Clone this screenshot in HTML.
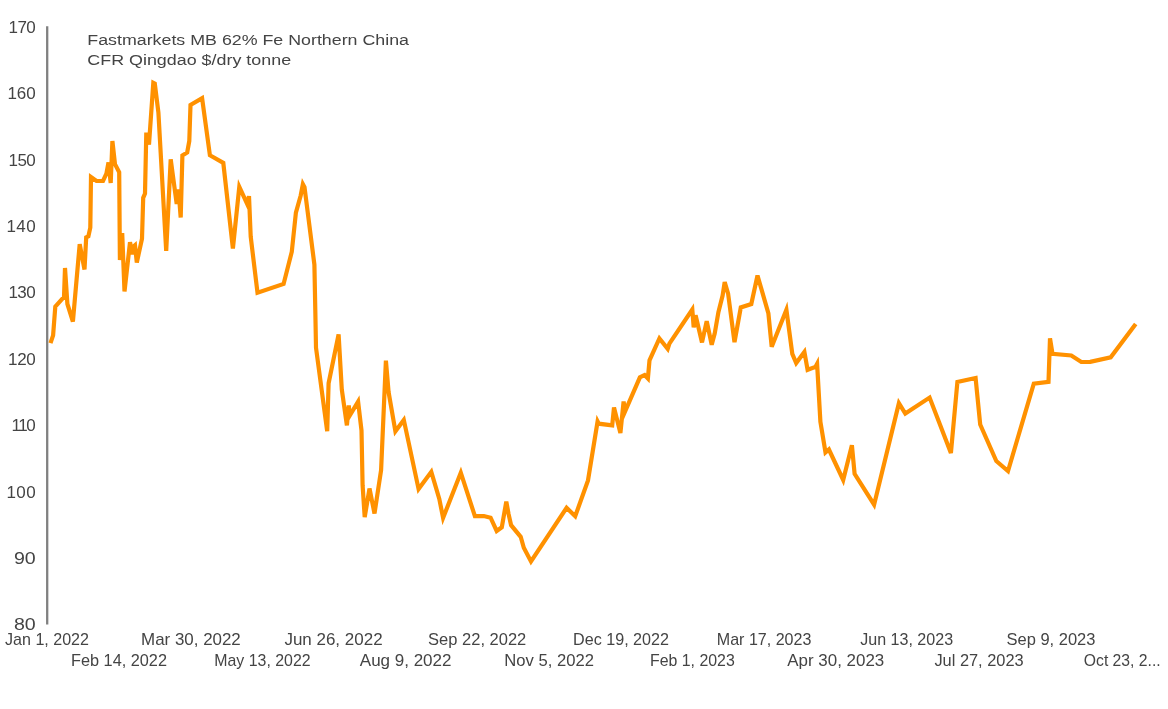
<!DOCTYPE html>
<html lang="en"><head><meta charset="utf-8"><title>Fastmarkets MB 62% Fe Northern China CFR Qingdao</title>
<style>
html,body{margin:0;padding:0;background:#fff;}
body{width:1168px;height:709px;overflow:hidden;}
svg{display:block;}
text{font-family:"Liberation Sans",Arial,sans-serif;font-size:15.3px;fill:#444444;}
text.ax{font-size:17px;}
</style></head><body>
<svg width="1168" height="709" viewBox="0 0 1168 709">
<rect x="0" y="0" width="1168" height="709" fill="#ffffff"/>
<line x1="47.2" y1="26.3" x2="47.2" y2="624.6" stroke="#808080" stroke-width="2.3"/>
<text class="ax" x="8.6" y="33.0" textLength="27.1" lengthAdjust="spacing">170</text>
<text class="ax" x="7.5" y="99.4" textLength="28.2" lengthAdjust="spacing">160</text>
<text class="ax" x="8.6" y="165.7" textLength="27.1" lengthAdjust="spacing">150</text>
<text class="ax" x="6.4" y="232.1" textLength="29.3" lengthAdjust="spacing">140</text>
<text class="ax" x="8.4" y="298.4" textLength="27.3" lengthAdjust="spacing">130</text>
<text class="ax" x="8.1" y="364.8" textLength="27.6" lengthAdjust="spacing">120</text>
<text class="ax" x="11.6" y="431.2" textLength="24.1" lengthAdjust="spacing">110</text>
<text class="ax" x="6.4" y="497.5" textLength="29.3" lengthAdjust="spacing">100</text>
<text class="ax" x="13.9" y="563.9" textLength="21.8" lengthAdjust="spacingAndGlyphs">90</text>
<text class="ax" x="13.9" y="630.2" textLength="21.8" lengthAdjust="spacingAndGlyphs">80</text>
<text x="87.3" y="45" textLength="321.7" lengthAdjust="spacingAndGlyphs">Fastmarkets MB 62% Fe Northern China</text>
<text x="87.3" y="65" textLength="203.8" lengthAdjust="spacingAndGlyphs">CFR Qingdao $/dry tonne</text>
<text class="ax" x="5.0" y="645.1" textLength="84.0" lengthAdjust="spacingAndGlyphs">Jan 1, 2022</text>
<text class="ax" x="141.1" y="645.1" textLength="99.7" lengthAdjust="spacingAndGlyphs">Mar 30, 2022</text>
<text class="ax" x="284.4" y="645.1" textLength="98.2" lengthAdjust="spacingAndGlyphs">Jun 26, 2022</text>
<text class="ax" x="428.1" y="645.1" textLength="98.2" lengthAdjust="spacingAndGlyphs">Sep 22, 2022</text>
<text class="ax" x="573.0" y="645.1" textLength="96.0" lengthAdjust="spacingAndGlyphs">Dec 19, 2022</text>
<text class="ax" x="716.8" y="645.1" textLength="94.6" lengthAdjust="spacingAndGlyphs">Mar 17, 2023</text>
<text class="ax" x="860.2" y="645.1" textLength="92.9" lengthAdjust="spacingAndGlyphs">Jun 13, 2023</text>
<text class="ax" x="1006.5" y="645.1" textLength="88.9" lengthAdjust="spacingAndGlyphs">Sep 9, 2023</text>
<text class="ax" x="71.0" y="665.7" textLength="96.0" lengthAdjust="spacingAndGlyphs">Feb 14, 2022</text>
<text class="ax" x="214.3" y="665.7" textLength="96.3" lengthAdjust="spacingAndGlyphs">May 13, 2022</text>
<text class="ax" x="359.8" y="665.7" textLength="91.7" lengthAdjust="spacingAndGlyphs">Aug 9, 2022</text>
<text class="ax" x="504.3" y="665.7" textLength="89.6" lengthAdjust="spacingAndGlyphs">Nov 5, 2022</text>
<text class="ax" x="650.0" y="665.7" textLength="84.8" lengthAdjust="spacingAndGlyphs">Feb 1, 2023</text>
<text class="ax" x="787.3" y="665.7" textLength="97.0" lengthAdjust="spacingAndGlyphs">Apr 30, 2023</text>
<text class="ax" x="934.4" y="665.7" textLength="89.3" lengthAdjust="spacingAndGlyphs">Jul 27, 2023</text>
<text class="ax" x="1083.8" y="665.6" textLength="76.9" lengthAdjust="spacingAndGlyphs">Oct 23, 2...</text>
<polyline points="50.5,343.2 53.1,335.4 55.3,306.7 64.0,297.0 65.0,268.0 67.4,304.0 72.9,321.5 79.7,244.1 84.5,269.5 86.2,237.4 88.4,236.3 90.3,227.6 91.0,177.0 96.5,181.0 103.0,181.0 106.4,173.7 108.5,162.5 110.7,183.0 112.4,141.0 115.0,164.2 119.2,172.2 119.9,260.0 122.2,233.0 124.5,291.5 130.0,242.3 132.5,254.2 134.0,246.1 135.0,245.2 136.8,262.5 142.0,238.7 143.2,197.8 145.0,193.6 146.3,132.6 149.0,144.5 153.3,82.8 154.8,83.6 158.4,112.5 166.2,251.0 170.7,159.3 176.7,204.0 178.5,189.5 180.7,217.5 182.4,155.5 187.2,152.5 189.3,141.0 190.5,105.0 202.1,98.1 209.9,155.3 223.3,162.9 232.9,248.5 239.3,186.8 247.4,204.4 249.0,196.2 250.7,236.6 257.5,292.8 283.6,283.9 291.8,251.7 295.9,212.6 300.7,195.5 302.9,184.2 304.5,187.1 314.4,264.7 315.3,310.0 316.0,347.7 327.2,431.3 328.6,383.3 338.6,334.3 341.8,389.5 346.9,425.4 348.8,405.5 349.6,415.8 358.1,401.7 361.5,430.4 362.6,485.2 364.7,517.2 369.5,488.5 374.5,513.5 381.1,470.1 385.9,360.7 388.6,392.2 395.4,431.3 403.8,419.9 418.6,489.1 431.3,471.8 439.3,498.9 443.1,517.9 460.8,472.7 474.9,516.2 483.8,516.0 490.6,517.7 496.7,531.0 501.8,527.3 506.3,501.5 508.6,514.2 511.1,525.2 520.7,536.8 523.8,547.8 531.0,561.5 566.6,507.8 575.2,516.3 588.0,480.4 597.6,421.4 598.8,423.7 612.2,425.4 614.0,407.4 620.4,433.0 623.6,401.5 625.0,411.5 639.9,377.4 644.6,375.0 647.9,378.5 649.5,360.3 659.4,338.5 667.7,348.9 669.4,343.6 692.3,309.5 693.7,327.3 695.6,315.3 702.0,342.4 706.7,321.1 711.7,344.7 714.7,333.5 718.4,312.2 722.6,295.6 724.7,282.0 728.1,293.6 734.5,342.2 740.8,307.4 751.3,304.0 757.5,275.5 768.4,313.5 771.7,346.8 786.4,309.8 792.3,353.9 796.2,363.0 804.4,351.9 807.6,369.8 815.4,366.9 817.1,363.8 820.4,421.8 825.5,452.4 828.9,449.5 843.2,480.0 851.9,445.2 854.6,473.8 874.1,504.7 898.9,403.2 905.3,413.5 929.6,397.6 950.9,453.0 957.4,381.9 975.6,378.0 980.2,424.5 996.3,461.0 1008.0,471.0 1033.8,383.6 1048.5,381.8 1050.0,338.3 1052.5,353.8 1071.3,355.5 1081.3,362.0 1090.2,361.8 1110.7,357.3 1135.7,324.1" fill="none" stroke="#ff9100" stroke-width="4.2" stroke-linejoin="miter" stroke-miterlimit="4" stroke-linecap="butt"/>
</svg>
</body></html>
